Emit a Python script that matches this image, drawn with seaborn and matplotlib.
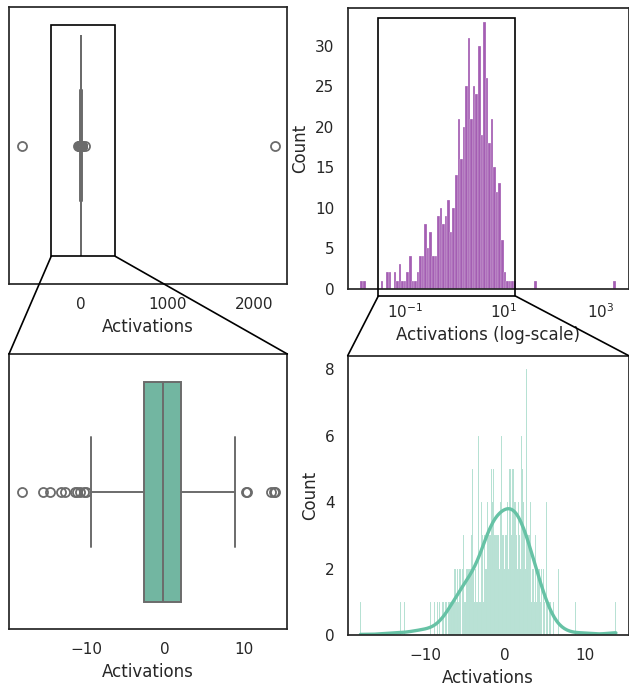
import numpy as np
import matplotlib
matplotlib.use("Agg")
import matplotlib.pyplot as plt
from matplotlib.patches import Rectangle, ConnectionPatch
from matplotlib.ticker import MultipleLocator
import seaborn as sns

# activations as counts per fine bin (14 bins per unit), one string per unit
bins_per_unit = 14
hist_lo, hist_hi = -19, 14

left_tail_bins = [   # units -19 .. -8
    "00000000000100",
    "00000000000000",
    "00000000000000",
    "00000001000000",
    "00000100000000",
    "00000000000100",
    "00001000000000",
    "00000001000010",
    "00100000010000",
    "10000000100100",
    "01000010001000",
    "01011010110111",
]
core_bins = [        # units -7 .. 6
    "11110111202111",
    "21121210213113",
    "12121232213151",
    "21121111611113",
    "43412342524236",
    "34353425433434",
    "36326426333526",
    "34343245453654",
    "54445372342322",
    "63534332382332",
    "32421232212315",
    "21212102103211",
    "01401001010010",
    "10000100020000",
]
right_tail_bins = [  # units 7 .. 13
    "00010000001000",
    "00000000000100",
    "00000000000000",
    "00010100000000",
    "00000000000000",
    "00000000000000",
    "00000100000110",
]

# far outliers only seen in the full-range boxplot
extreme_values = [-686, -38, 51, 2235]

# histogram of the positive activations on a log axis (100 bins, log10 range)
log_lo, log_hi = -1.918, 3.306
log_counts = [
    1, 1, 0, 0, 0, 0, 0, 0, 1, 0,
    2, 2, 0, 2, 1, 3, 1, 1, 2, 4,
    1, 1, 2, 4, 4, 8, 5, 7, 4, 4,
    9, 10, 8, 9, 11, 7, 10, 14, 21, 16,
    20, 25, 31, 21, 25, 24, 30, 19, 33, 26,
    18, 21, 15, 12, 13, 6, 2, 1, 1, 1,
    1, 0, 0, 0, 0, 0, 0, 0, 1, 0,
    0, 0, 0, 0, 0, 0, 0, 0, 0, 0,
    0, 0, 0, 0, 0, 0, 0, 0, 0, 0,
    0, 0, 0, 0, 0, 0, 0, 0, 0, 1,
]


def main():
    sns.set_theme(style="white")
    green = sns.color_palette("Set2")[0]
    purple = "#86289a"

    counts = np.array([int(c) for s in left_tail_bins + core_bins + right_tail_bins for c in s])
    n_bins = len(counts)
    centers = hist_lo + (np.arange(n_bins) + 0.5) / bins_per_unit
    activations = np.repeat(centers, counts)
    all_activations = np.concatenate([activations, extreme_values])

    edges = np.linspace(log_lo, log_hi, len(log_counts) + 1)
    log_centers = 10 ** ((edges[:-1] + edges[1:]) / 2)

    fig = plt.figure(figsize=(6.29, 6.87), dpi=100)
    ax_tl = fig.add_axes([0.0143, 0.5866, 0.4425, 0.4028])
    ax_tr = fig.add_axes([0.5528, 0.5798, 0.4467, 0.4081])
    ax_bl = fig.add_axes([0.0143, 0.0840, 0.4425, 0.4007])
    ax_br = fig.add_axes([0.5528, 0.0753, 0.4467, 0.4070])

    box_style = dict(color=green, linecolor=".42", linewidth=1.4, fliersize=6.5,
                     flierprops=dict(markeredgewidth=1.3))

    # full range boxplot
    sns.boxplot(x=all_activations, ax=ax_tl, **box_style)
    ax_tl.set_xlabel("Activations")

    # log-scale histogram
    sns.histplot(x=log_centers, weights=log_counts, bins=len(log_counts),
                 binrange=(log_lo, log_hi), log_scale=True, color=purple, ax=ax_tr)
    ax_tr.set_xticks([1e-1, 1e1, 1e3])
    ax_tr.set_xlabel("Activations (log-scale)")
    ax_tr.set_ylabel("Count")

    # zoomed boxplot
    sns.boxplot(x=activations, ax=ax_bl, **box_style)
    ax_bl.set_xlabel("Activations")

    # zoomed histogram + kde
    sns.histplot(activations, bins=n_bins, binrange=(hist_lo, hist_hi),
                 kde=True, color=green, line_kws=dict(linewidth=2.4), ax=ax_br)
    ax_br.yaxis.set_major_locator(MultipleLocator(2))
    ax_br.set_xlabel("Activations")
    ax_br.set_ylabel("Count")

    rng = activations.max() - activations.min()
    xlim = (activations.min() - 0.05 * rng, activations.max() + 0.05 * rng)
    ax_bl.set_xlim(xlim)
    ax_br.set_xlim(xlim)

    # zoom boxes and connectors
    box_kw = dict(fill=False, edgecolor="black", linewidth=1.2, clip_on=False, zorder=5)
    tl_x0, tl_x1, tl_y0, tl_y1 = -345, 395, -0.435, 0.40
    ax_tl.add_patch(Rectangle((tl_x0, tl_y0), tl_x1 - tl_x0, tl_y1 - tl_y0, **box_kw))
    tr_x0, tr_x1, tr_y0, tr_y1 = 0.028, 17.7, -0.9, 33.5
    ax_tr.add_patch(Rectangle((tr_x0, tr_y0), tr_x1 - tr_x0, tr_y1 - tr_y0, **box_kw))

    for (ax_a, pt, ax_b, corner) in [
        (ax_tl, (tl_x0, tl_y1), ax_bl, (0, 1)),
        (ax_tl, (tl_x1, tl_y1), ax_bl, (1, 1)),
        (ax_tr, (tr_x0, tr_y0), ax_br, (0, 1)),
        (ax_tr, (tr_x1, tr_y0), ax_br, (1, 1)),
    ]:
        con = ConnectionPatch(xyA=pt, coordsA=ax_a.transData, xyB=corner,
                              coordsB=ax_b.transAxes, color="black", linewidth=1.2)
        fig.add_artist(con)

    fig.savefig("out.png", dpi=100)
    plt.close(fig)


if __name__ == '__main__':
    main()
